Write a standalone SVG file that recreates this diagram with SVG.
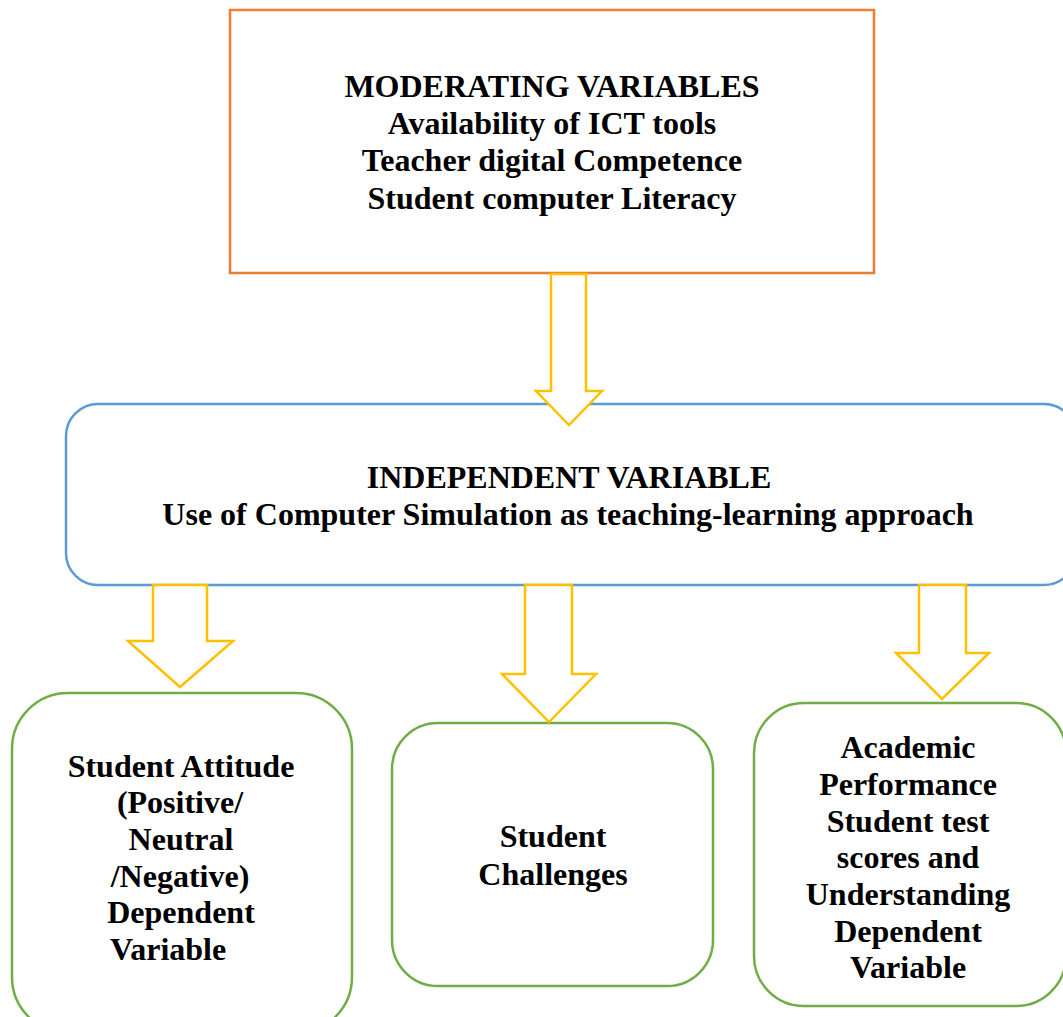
<svg xmlns="http://www.w3.org/2000/svg" width="1063" height="1017" viewBox="0 0 1063 1017">
  <style>
    text { font-family: "Liberation Serif", "Times New Roman", serif; font-weight: bold; font-size: 32px; fill: #000; text-anchor: middle; }
    .mod { fill: #fff; stroke: #ED7D31; stroke-width: 2.5; }
    .ind { fill: #fff; stroke: #5B9BD5; stroke-width: 2.5; }
    .dep { fill: #fff; stroke: #70AD47; stroke-width: 2.5; }
    .arrow { fill: #fff; stroke: #FFC000; stroke-width: 2.5; stroke-linejoin: miter; }
  </style>

  <!-- Moderating variables -->
  <g id="moderating">
    <rect class="mod" x="230" y="10" width="644" height="263"/>
    <text x="552" y="97">MODERATING VARIABLES</text>
    <text x="552" y="134">Availability of ICT tools</text>
    <text x="552" y="171">Teacher digital Competence</text>
    <text x="552" y="209">Student computer Literacy</text>
  </g>

  <!-- Independent variable -->
  <g id="independent">
    <rect class="ind" x="66" y="404" width="1010" height="181" rx="32" ry="32"/>
    <text x="569" y="488">INDEPENDENT VARIABLE</text>
    <text x="568" y="525">Use of Computer Simulation as teaching-learning approach</text>
  </g>

  <!-- Dependent: attitude -->
  <g id="attitude">
    <rect class="dep" x="12" y="693" width="340" height="340" rx="56" ry="56"/>
    <text x="181" y="777">Student Attitude</text>
    <text x="180" y="813">(Positive/</text>
    <text x="181" y="850">Neutral</text>
    <text x="180" y="887">/Negative)</text>
    <text x="181" y="923">Dependent</text>
    <text x="110" y="960" style="text-anchor:start">Variable</text>
  </g>

  <!-- Dependent: challenges -->
  <g id="challenges">
    <rect class="dep" x="392" y="723" width="321" height="263" rx="46" ry="46"/>
    <text x="553" y="847">Student</text>
    <text x="553" y="885">Challenges</text>
  </g>

  <!-- Dependent: academic performance -->
  <g id="performance">
    <rect class="dep" x="754" y="703" width="312" height="303" rx="50" ry="50"/>
    <text x="908" y="758">Academic</text>
    <text x="908" y="795">Performance</text>
    <text x="908" y="832">Student test</text>
    <text x="908" y="868">scores and</text>
    <text x="908" y="905">Understanding</text>
    <text x="908" y="942">Dependent</text>
    <text x="908" y="978">Variable</text>
  </g>

  <!-- Block arrows between the boxes -->
  <g id="connectors">
    <polygon class="arrow" points="551,274 586,274 586,391 602,391 569,425 536,391 551,391"/>
    <polygon class="arrow" points="153,585 207,585 207,641 233,641 180,687 128,641 153,641"/>
    <polygon class="arrow" points="525,585 572,585 572,674 596,674 549,722 502,674 525,674"/>
    <polygon class="arrow" points="919,585 966,585 966,653 989,653 942,699 896,653 919,653"/>
  </g>
</svg>
